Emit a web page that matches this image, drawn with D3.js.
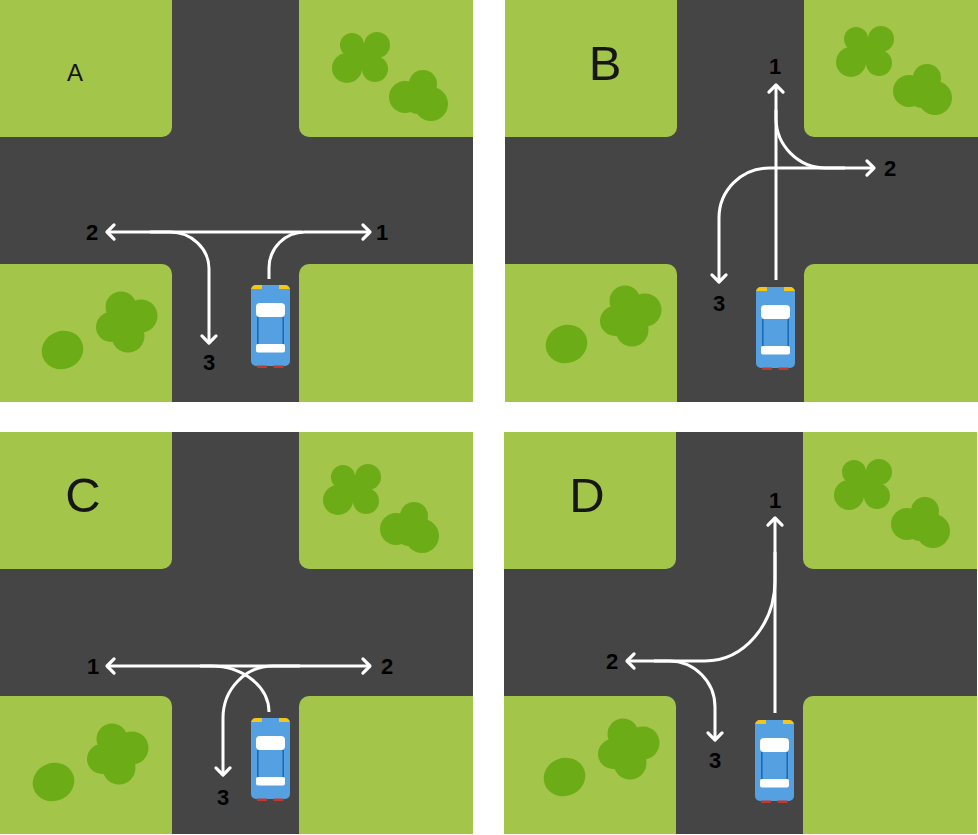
<!DOCTYPE html>
<html>
  <head>
    <title>Intersection routes</title>
    <script src="https://d3js.org/d3.v7.min.js"></script>
    <style type="text/css">
      body {
        margin: 0;
        background: #fff;
      }
      svg {
        display: block;
      }
    </style>
  </head>

  <body>
    <svg id="chart" width="978" height="835"></svg>
  </body>

  <script type="text/javascript">

    // Data: one panel per letter, route coordinates in panel space
    // r = corner radius, or [radius along incoming leg, radius along outgoing leg]
    const panelLetters = ['A', 'B', 'C', 'D'];

    const routesA = [
      {pts: [[269, 279], [269, 232], [370, 232]], r: 36},
      {pts: [[302, 232], [107, 232]], r: 0},
      {pts: [[150, 232], [209, 232], [209, 343]], r: [39, 37]}
    ];
    const routesB = [
      {pts: [[271, 280], [271, 85]], r: 0},
      {pts: [[271, 110], [271, 168], [369, 168]], r: 50},
      {pts: [[340, 168], [214, 168], [214, 282]], r: 50}
    ];
    const routesC = [
      {pts: [[269, 280], [269, 234], [107, 234]], r: [46, 58]},
      {pts: [[200, 234], [370, 234]], r: 0},
      {pts: [[300, 234], [223, 234], [223, 343]], r: [50, 52]}
    ];
    const routesD = [
      {pts: [[271, 281], [271, 86]], r: 0},
      {pts: [[271, 120], [271, 229], [123, 229]], r: [81, 70]},
      {pts: [[150, 229], [211, 229], [211, 308]], r: 46}
    ];

    const labelsA = [['1', 382, 232], ['2', 92, 232], ['3', 209, 362]];
    const labelsB = [['1', 270, 66], ['2', 385, 168], ['3', 214, 303]];
    const labelsC = [['1', 93, 234], ['2', 387, 234], ['3', 223, 365]];
    const labelsD = [['1', 271, 68], ['2', 108, 229], ['3', 211, 328]];

    const carTops = [285, 287, 286, 288];

    // trees (A panel coordinates), other panels shifted a little
    const bushTR1 = [[352, 45, 12], [377, 45, 13], [347, 68, 15], [375, 69, 13], [362, 57, 13]];
    const bushTR2 = [[423, 84, 14], [405, 97, 16], [431, 104, 17], [418, 100, 14]];
    const bushBL = [[121, 307, 15.5], [141, 316, 16.5], [111, 327, 15], [128, 336, 16.5], [126, 321, 14]];
    const blobBL = [62.5, 350, 21, 19];
    const treeShift = [[0, 0], [-1, -6], [-9, 0], [-2, -5]];

    // Layout
    const PW = 473, PH = 402;
    const origins = [[0, 0], [505, 0], [0, 432], [504, 432]];
    const ROAD_X = [172, 299], ROAD_Y = [137, 264];
    const GRASS = '#a2c54a', ROAD = '#454545', TREE = '#6cac16';
    const K = 0.5523;

    const svg = d3.select('#chart');
    const defs = svg.append('defs');

    const allRoutes = [routesA, routesB, routesC, routesD];
    const allLabels = [labelsA, labelsB, labelsC, labelsD];

    panelLetters.forEach((letter, i) => {
      const [ox, oy] = origins[i];
      const x = d3.scaleLinear().domain([0, PW]).range([ox, ox + PW]);
      const y = d3.scaleLinear().domain([0, PH]).range([oy, oy + PH]);

      defs.append('clipPath').attr('id', 'clip-' + i)
        .append('rect')
        .attr('x', x(0)).attr('y', y(0))
        .attr('width', PW).attr('height', PH);

      const g = svg.append('g').attr('clip-path', 'url(#clip-' + i + ')');

      // road background
      g.append('rect')
        .attr('x', x(0)).attr('y', y(0))
        .attr('width', PW).attr('height', PH)
        .attr('fill', ROAD);

      // grass blocks with rounded inner corners
      const blocks = [
        [-20, -20, ROAD_X[0], ROAD_Y[0]],
        [ROAD_X[1], -20, PW + 20, ROAD_Y[0]],
        [-20, ROAD_Y[1], ROAD_X[0], PH + 20],
        [ROAD_X[1], ROAD_Y[1], PW + 20, PH + 20]
      ];
      g.selectAll('rect.grass')
        .data(blocks)
        .enter().append('rect')
        .attr('class', 'grass')
        .attr('x', d => x(d[0])).attr('y', d => y(d[1]))
        .attr('width', d => x(d[2]) - x(d[0]))
        .attr('height', d => y(d[3]) - y(d[1]))
        .attr('rx', 10)
        .attr('fill', GRASS);

      // trees
      const [sx, sy] = treeShift[i];
      const circles = bushTR1.concat(bushTR2, bushBL);
      g.selectAll('circle.tree')
        .data(circles)
        .enter().append('circle')
        .attr('class', 'tree')
        .attr('cx', d => x(d[0] + sx))
        .attr('cy', d => y(d[1] + sy))
        .attr('r', d => d[2])
        .attr('fill', TREE);
      g.append('ellipse')
        .attr('cx', x(blobBL[0] + sx)).attr('cy', y(blobBL[1] + sy))
        .attr('rx', blobBL[2]).attr('ry', blobBL[3])
        .attr('transform', `rotate(-20 ${x(blobBL[0] + sx)} ${y(blobBL[1] + sy)})`)
        .attr('fill', TREE);

      // panel letter
      g.append('text')
        .attr('x', x(i === 0 ? 75 : (i === 1 ? 100 : 83)))
        .attr('y', y(i === 0 ? 81 : 80))
        .attr('text-anchor', 'middle')
        .attr('font-family', 'Liberation Sans, Arial, sans-serif')
        .attr('font-size', i === 0 ? 24 : 49)
        .attr('fill', '#161616')
        .text(letter);

      // routes
      allRoutes[i].forEach(rt => {
        const p = d3.path();
        const pts = rt.pts;
        p.moveTo(x(pts[0][0]), y(pts[0][1]));
        for (let k = 1; k < pts.length - 1; k++) {
          const a = pts[k - 1], c = pts[k], b = pts[k + 1];
          const [rIn, rOut] = Array.isArray(rt.r) ? rt.r : [rt.r, rt.r];
          const li = Math.hypot(c[0] - a[0], c[1] - a[1]);
          const lo = Math.hypot(b[0] - c[0], b[1] - c[1]);
          const di = [(c[0] - a[0]) / li, (c[1] - a[1]) / li];
          const dO = [(b[0] - c[0]) / lo, (b[1] - c[1]) / lo];
          const p1 = [c[0] - di[0] * rIn, c[1] - di[1] * rIn];
          const p2 = [c[0] + dO[0] * rOut, c[1] + dO[1] * rOut];
          p.lineTo(x(p1[0]), y(p1[1]));
          p.bezierCurveTo(
            x(p1[0] + di[0] * K * rIn), y(p1[1] + di[1] * K * rIn),
            x(p2[0] - dO[0] * K * rOut), y(p2[1] - dO[1] * K * rOut),
            x(p2[0]), y(p2[1]));
        }
        const last = pts[pts.length - 1], prev = pts[pts.length - 2];
        p.lineTo(x(last[0]), y(last[1]));
        g.append('path')
          .attr('d', p.toString())
          .attr('fill', 'none')
          .attr('stroke', '#fff')
          .attr('stroke-width', 3);

        // open chevron head
        const dx = last[0] - prev[0], dy = last[1] - prev[1];
        const len = Math.hypot(dx, dy);
        const ux = dx / len, uy = dy / len;
        const L = 10, c = Math.SQRT1_2;
        const a1 = [last[0] - L * (ux * c - uy * c), last[1] - L * (uy * c + ux * c)];
        const a2 = [last[0] - L * (ux * c + uy * c), last[1] - L * (uy * c - ux * c)];
        g.append('path')
          .attr('d', `M${x(a1[0])},${y(a1[1])}L${x(last[0])},${y(last[1])}L${x(a2[0])},${y(a2[1])}`)
          .attr('fill', 'none')
          .attr('stroke', '#fff')
          .attr('stroke-width', 3.2)
          .attr('stroke-linecap', 'round')
          .attr('stroke-linejoin', 'round');
      });

      // route numbers
      g.selectAll('text.num')
        .data(allLabels[i])
        .enter().append('text')
        .attr('class', 'num')
        .attr('x', d => x(d[1]))
        .attr('y', d => y(d[2]) + 8)
        .attr('text-anchor', 'middle')
        .attr('font-family', 'Liberation Sans, Arial, sans-serif')
        .attr('font-weight', 'bold')
        .attr('font-size', 22)
        .attr('fill', '#000')
        .text(d => d[0]);

      // car
      const car = g.append('g')
        .attr('transform', `translate(${x(251)},${y(carTops[i])})`);
      car.append('rect')
        .attr('width', 39).attr('height', 81).attr('rx', 5)
        .attr('fill', '#55a0e0');
      car.append('rect').attr('x', 6).attr('y', 80.5).attr('width', 10).attr('height', 2.5).attr('fill', '#c0392b');
      car.append('rect').attr('x', 22.5).attr('y', 80.5).attr('width', 10).attr('height', 2.5).attr('fill', '#c0392b');
      car.append('path').attr('d', 'M0,5a5,5 0 0 1 5,-5h6v4h-11z').attr('fill', '#f5c518');
      car.append('path').attr('d', 'M39,5a5,5 0 0 0 -5,-5h-6v4h11z').attr('fill', '#f5c518');
      car.append('rect').attr('x', 6).attr('y', 32).attr('width', 1.6).attr('height', 27).attr('fill', '#1b6cb4');
      car.append('rect').attr('x', 31.4).attr('y', 32).attr('width', 1.6).attr('height', 27).attr('fill', '#1b6cb4');
      car.append('rect').attr('x', 5).attr('y', 18).attr('width', 29).attr('height', 14).attr('rx', 4).attr('fill', '#fff');
      car.append('rect').attr('x', 5).attr('y', 59).attr('width', 29).attr('height', 8.5).attr('rx', 2).attr('fill', '#fff');
    });

  </script>
</html>
